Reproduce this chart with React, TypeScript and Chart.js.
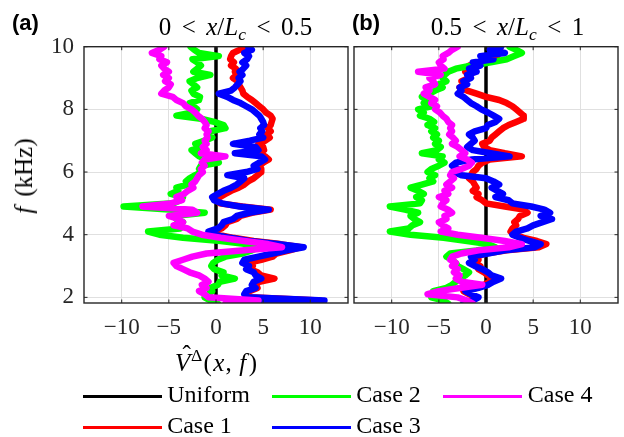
import React, { useEffect, useRef } from "react";
import { Chart, registerables } from "chart.js";

Chart.register(...registerables);

// frequency samples (kHz), top to bottom
const freqs = [
  10.0, 9.9, 9.8, 9.7, 9.6, 9.5, 9.4, 9.3, 9.2, 9.1,
  9.0, 8.9, 8.8, 8.7, 8.6, 8.5, 8.4, 8.3, 8.2, 8.1,
  8.0, 7.9, 7.8, 7.7, 7.6, 7.5, 7.4, 7.3, 7.2, 7.1,
  7.0, 6.9, 6.8, 6.7, 6.6, 6.5, 6.4, 6.3, 6.2, 6.1,
  6.0, 5.9, 5.8, 5.7, 5.6, 5.5, 5.4, 5.3, 5.2, 5.1,
  5.0, 4.9, 4.8, 4.7, 4.6, 4.5, 4.4, 4.3, 4.2, 4.1,
  4.0, 3.9, 3.8, 3.7, 3.6, 3.5, 3.4, 3.3, 3.2, 3.1,
  3.0, 2.9, 2.8, 2.7, 2.6, 2.5, 2.4, 2.3, 2.2, 2.1,
  2.0, 1.9, 1.8,
];

const uniformFreqs = [1.8, 10.0];
const uniformValues = [0, 0];

// ---- panel (a): 0 < x/Lc < 0.5 ----
const aCase1 = [
  3.2, 2.5, 1.8, 1.6, 1.5, 1.9, 1.6, 2.1, 2.0, 2.2,
  1.8, 2.3, 2.4, 2.6, 2.8, 2.9, 3.3, 3.8, 4.2, 4.6,
  5.0, 5.3, 5.8, 6.0, 5.9, 5.8, 5.5, 5.8, 5.4, 5.7,
  5.2, 4.5, 5.0, 5.1, 4.6, 5.2, 5.6, 5.0, 4.6, 4.8,
  4.8, 4.4, 4.0, 3.4, 3.0, 2.4, 1.6, 1.0, 0.4, 0.2,
  0.4, 2.8, 5.8, 3.8, 2.6, 2.2, 1.2, 1.0, 0.6, -0.4,
  0.2, 1.8, 4.0, 6.8, 9.0, 7.8, 6.4, 6.0, 4.8, 3.4,
  3.9, 3.6, 4.4, 4.8, 6.2, 4.6, 4.2, 4.4, 3.6, 3.3,
  3.7, 11.0, 3.8,
];
const aCase2 = [
  -2.7, -2.3, -1.8, 0.3, -2.5, -2.0, -1.6, -2.0, -2.4, -0.6,
  -2.0, -2.8, -2.4, -2.0, -2.6, -2.4, -1.7, -1.8, -2.8, -2.4,
  -2.0, -2.5, -4.2, -1.6, -0.2, 0.8, 1.0, -0.6, -0.9, -0.4,
  -1.2, -2.2, -1.2, -2.6, -2.2, -1.8, -1.0, 0.3, -1.6, -1.8,
  -1.5, -2.2, -2.8, -3.2, -3.0, -4.2, -4.0, -4.8, -3.5, -3.8,
  -4.5, -9.8, -5.0, -1.2, -4.5, -4.2, -3.5, -4.0, -3.8, -7.2,
  -6.0, -3.5, 0.5, 3.2, 4.5, 3.8, 2.8, 1.0, 0.2, -0.3,
  -0.5, -0.2, 0.8, 0.6, 2.0, 0.4, 0.2, -0.6, -0.4, -0.8,
  -1.2, -0.6, 0.2,
];
const aCase3 = [
  3.4, 3.8, 3.0, 3.5, 3.3, 2.8, 3.2, 2.9, 2.5, 2.8,
  2.4, 2.6, 2.3, 2.0, 1.6, 0.3, 1.2, 1.8, 2.6, 3.2,
  3.8, 4.2, 4.6, 4.8, 5.0, 5.1, 4.7, 4.9, 4.6, 5.0,
  3.6, 1.8, 4.2, 4.5, 2.0, 4.8, 5.2, 4.6, 4.0, 4.4,
  3.2, 1.2, 3.0, 2.6, 2.2, 1.6, 0.8, 0.2, -0.4, -0.2,
  0.6, 2.5, 5.6, 3.5, 2.2, 1.8, 0.8, 0.6, 0.2, -0.8,
  -0.2, 1.5, 3.5, 6.5, 9.3, 7.5, 6.0, 4.5, 3.0, 2.8,
  3.5, 3.2, 4.0, 4.2, 4.8, 4.0, 3.8, 4.2, 3.2, 3.0,
  3.4, 11.5, 3.6,
];
const aCase4 = [
  -5.5, -6.0, -6.8, -5.8, -6.0, -5.2, -5.8, -5.5, -5.0, -5.6,
  -5.0, -5.4, -4.8, -5.0, -5.5, -5.8, -4.6, -4.2, -3.5, -3.2,
  -2.6, -2.2, -1.9, -1.5, -1.2, -1.0, -1.2, -0.8, -1.0, -0.9,
  -1.2, -1.0, -1.4, -1.0, -1.6, 1.0, -1.2, -1.5, -1.2, -1.6,
  -1.4, -1.8, -2.0, -2.2, -2.6, -2.4, -3.0, -3.4, -4.2, -3.6,
  -4.8, -7.8, -2.5, -2.0, -5.0, -4.0, -3.5, -4.5, -3.0, -2.5,
  -1.5, 0.5, 3.0, 5.5, 7.0, 3.0, -1.0, -2.5, -3.5, -4.5,
  -4.2, -3.5, -2.8, -1.8, -1.2, -0.8, -1.5, -1.0, -1.8, -1.2,
  -0.8, 4.5, 1.0,
];

// ---- panel (b): 0.5 < x/Lc < 1 ----
const bCase1 = [
  1.0, 1.5, 0.6, 1.2, 0.0, -0.7, -1.8, -1.4, -2.2, -1.6,
  -1.8, -2.6, -2.2, -2.8, -2.0, -1.0, 0.0, 1.4, 2.2, 2.8,
  3.2, 3.6, 4.0, 4.0, 3.2, 2.4, 1.8, 1.4, 1.0, 0.6,
  0.4, -0.4, -0.2, 0.4, 2.0, 3.8, 0.4, -0.4, -0.8, -1.0,
  -1.4, -1.6, -1.8, -1.4, -1.2, -1.0, -1.4, -0.8, -1.0, -0.4,
  0.0, 2.0, 4.0, 4.4, 3.6, 3.4, 3.0, 3.2, 2.8, 2.6,
  3.0, 4.0, 5.4, 6.4, 5.6, 2.2, 0.0, -1.0, -0.8, -1.2,
  -0.6, -0.8, -0.2, 0.2, 0.8, 0.4, -0.2, -1.0, -2.4, -1.8,
  -1.0, -1.6, -2.4,
];
const bCase2 = [
  2.5, 3.2, 3.8, 3.0, 2.2, 0.5, -1.5, -3.2, -4.0, -4.4,
  -4.6, -4.2, -5.0, -4.6, -5.4, -6.0, -6.8, -6.2, -6.6, -5.8,
  -7.2, -6.6, -7.0, -6.0, -5.5, -6.2, -5.4, -5.8, -5.2, -5.6,
  -5.0, -5.4, -4.8, -5.2, -6.8, -4.6, -5.0, -4.4, -5.0, -5.8,
  -6.2, -5.4, -6.0, -5.6, -6.8, -8.0, -7.2, -6.6, -7.4, -6.8,
  -7.0, -10.2, -8.6, -7.2, -8.0, -7.6, -7.0, -7.8, -8.2, -10.2,
  -8.0, -4.5, -2.0, 0.2, 1.0, -1.0, -3.8, -4.2, -3.6, -3.2,
  -3.0, -2.4, -1.8, -2.2, -2.8, -3.2, -3.6, -4.2, -5.6, -5.2,
  -5.8, -4.5, -4.0,
];
const bCase3 = [
  1.6, 0.4, 2.0, -0.6, 0.8, -1.4, -0.6, -1.8, -1.0, -2.0,
  -1.6, -2.4, -2.0, -2.8, -2.6, -3.0, -2.4, -2.0, -1.6, -1.0,
  -0.5, 0.2, 0.8, 1.4, 1.0, 0.2, 0.0, -1.2, -1.8, -1.4,
  -1.2, -1.6, -2.0, -1.4, 0.5, 2.5, -1.5, -3.2, -3.6, -3.0,
  -3.4, -2.6, 0.0, 0.8, 1.4, 0.6, 1.2, 1.8, 1.0, 2.4,
  2.8, 4.8, 6.2, 6.8, 5.8, 7.0, 6.0, 5.0, 4.4, 3.2,
  2.8, 3.6, 4.6, 5.8, 5.2, 2.0, 0.2, -1.6, -1.2, -1.8,
  -1.2, -0.4, 0.2, 0.6, 1.6, 0.8, 0.2, -0.8, -2.2, -1.6,
  -0.8, -1.4, -2.4,
];
const bCase4 = [
  -3.0, -3.6, -4.0, -4.6, -4.5, -5.0, -4.8, -4.4, -7.2, -4.8,
  -6.0, -5.6, -5.4, -6.4, -6.0, -6.6, -6.0, -5.4, -5.8, -5.2,
  -5.4, -4.9, -4.6, -4.2, -4.0, -3.6, -3.8, -3.6, -3.9, -3.5,
  -3.2, -3.6, -3.0, -2.6, -2.2, -2.8, -2.0, -1.5, -1.8, -2.6,
  -3.6, -3.8, -3.4, -3.8, -4.2, -3.6, -4.4, -4.0, -5.0, -4.2,
  -4.6, -4.8, -4.0, -3.6, -4.4, -4.2, -5.0, -4.6, -4.0, -4.8,
  -3.0, -0.5, 2.0, 3.8, 2.4, -0.8, -2.6, -3.6, -3.8, -3.2,
  -3.6, -3.0, -3.4, -2.8, -3.2, -2.6, -0.4, -2.8, -5.0, -6.2,
  -3.0, -2.0, -1.4,
];

const xTickValues = [-10, -5, 0, 5, 10];
const yTickValues = [2, 4, 6, 8, 10];
const xRange = [-14, 14];
const yRange = [1.82, 10];

const seriesNames = ["Uniform", "Case 1", "Case 2", "Case 3", "Case 4"];
const seriesColors = ["#000000", "#ff0000", "#00ff00", "#0000ff", "#ff00ff"];

const SERIF = "'Liberation Serif', 'Times New Roman', serif";
const SANS = "'Liberation Sans', Arial, sans-serif";
const AXIS_COLOR = "#262626";

const fmtTick = (v: number) => (v < 0 ? "\u2212" + Math.abs(v) : String(v));

const framePlugin = {
  id: "matlabFrame",
  afterDatasetsDraw(chart: any) {
    const { ctx, chartArea: a } = chart;
    const xs = chart.scales.x;
    const ys = chart.scales.y;
    const L = 3.5;
    ctx.save();
    ctx.strokeStyle = AXIS_COLOR;
    ctx.lineWidth = 1;
    ctx.beginPath();
    for (const t of xs.ticks) {
      const p = xs.getPixelForValue(t.value);
      ctx.moveTo(p, a.bottom);
      ctx.lineTo(p, a.bottom - L);
      ctx.moveTo(p, a.top);
      ctx.lineTo(p, a.top + L);
    }
    for (const t of ys.ticks) {
      const p = ys.getPixelForValue(t.value);
      ctx.moveTo(a.left, p);
      ctx.lineTo(a.left + L, p);
      ctx.moveTo(a.right, p);
      ctx.lineTo(a.right - L, p);
    }
    ctx.stroke();
    ctx.lineWidth = 1.4;
    ctx.strokeRect(a.left, a.top, a.right - a.left, a.bottom - a.top);
    ctx.restore();
  },
};

function buildDatasets(cases: number[][]) {
  const common = {
    showLine: true,
    pointRadius: 0,
    pointHoverRadius: 0,
    fill: false,
    tension: 0,
    borderJoinStyle: "round",
    borderCapStyle: "round",
    clip: 0,
  };
  const ds: any[] = [
    {
      ...common,
      label: seriesNames[0],
      data: uniformFreqs.map((f, i) => ({ x: uniformValues[i], y: f })),
      borderColor: seriesColors[0],
      borderWidth: 3.5,
      order: 5,
    },
  ];
  cases.forEach((vals, k) => {
    ds.push({
      ...common,
      label: seriesNames[k + 1],
      data: freqs.map((f, i) => ({ x: vals[i], y: f })),
      borderColor: seriesColors[k + 1],
      borderWidth: 6.5,
      order: 4 - k,
    });
  });
  return ds;
}

type PanelProps = {
  left: number;
  width: number;
  height: number;
  padTop: number;
  padRight: number;
  yAxisWidth: number;
  xAxisHeight: number;
  showYLabels: boolean;
  cases: number[][];
};

function Panel(p: PanelProps) {
  const ref = useRef<HTMLCanvasElement>(null);
  useEffect(() => {
    const tickFont = { family: SERIF, size: 23 };
    const chart = new Chart(ref.current as HTMLCanvasElement, {
      type: "scatter",
      data: { datasets: buildDatasets(p.cases) },
      options: {
        animation: false,
        responsive: false,
        devicePixelRatio: 1,
        events: [],
        layout: { padding: { left: 0, right: p.padRight, top: p.padTop, bottom: 0 } },
        plugins: { legend: { display: false }, tooltip: { enabled: false }, title: { display: false } },
        scales: {
          x: {
            type: "linear",
            min: xRange[0],
            max: xRange[1],
            afterBuildTicks: (s: any) => {
              s.ticks = xTickValues.map((v) => ({ value: v }));
            },
            afterFit: (s: any) => {
              s.height = p.xAxisHeight;
            },
            grid: { color: "#e0e0e0", lineWidth: 1, drawTicks: false },
            border: { display: false },
            ticks: {
              font: tickFont,
              color: AXIS_COLOR,
              padding: 11,
              maxRotation: 0,
              autoSkip: false,
              callback: (v: any) => fmtTick(Number(v)),
            },
          },
          y: {
            type: "linear",
            min: yRange[0],
            max: yRange[1],
            afterBuildTicks: (s: any) => {
              s.ticks = yTickValues.map((v) => ({ value: v }));
            },
            afterFit: (s: any) => {
              s.width = p.yAxisWidth;
            },
            grid: { color: "#e0e0e0", lineWidth: 1, drawTicks: false },
            border: { display: false },
            ticks: {
              display: p.showYLabels,
              font: tickFont,
              color: AXIS_COLOR,
              padding: 10,
              autoSkip: false,
              callback: (v: any) => fmtTick(Number(v)),
            },
          },
        },
      } as any,
      plugins: [framePlugin],
    } as any);
    return () => chart.destroy();
  }, []);
  return (
    <canvas
      ref={ref}
      width={p.width}
      height={p.height}
      style={{ position: "absolute", left: p.left, top: 0, width: p.width, height: p.height }}
    />
  );
}

function Label(props: {
  x: number;
  baseline: number;
  size: number;
  family?: string;
  align?: "left" | "center";
  bold?: boolean;
  children: React.ReactNode;
}) {
  const family = props.family || SERIF;
  const asc = family === SANS ? 0.905 : 0.891;
  const desc = family === SANS ? 0.212 : 0.216;
  return (
    <div
      style={{
        position: "absolute",
        left: props.x,
        top: props.baseline - asc * props.size,
        fontSize: props.size,
        fontFamily: family,
        fontWeight: props.bold ? 700 : 400,
        lineHeight: `${(asc + desc) * props.size}px`,
        whiteSpace: "nowrap",
        color: "#000",
        transform: props.align === "center" ? "translateX(-50%)" : undefined,
      }}
    >
      {props.children}
    </div>
  );
}

const rel = { margin: "0 0.42em" };
const sub = { fontSize: "0.7em", position: "relative" as const, top: "0.28em", lineHeight: 0 };

function RangeTitle({ lo, hi }: { lo: string; hi: string }) {
  return (
    <>
      <span>{lo}</span>
      <span style={rel}>&lt;</span>
      <i>x</i>
      <span>/</span>
      <i>L</i>
      <i style={sub}>c</i>
      <span style={rel}>&lt;</span>
      <span>{hi}</span>
    </>
  );
}

// legend layout: column-major with 2 rows
const legendCols = [82.7, 271.7, 443.3];
const legendRows = [396.8, 427.3];

export default function App() {
  const panelH = 345;
  return (
    <div
      style={{
        position: "fixed",
        left: 0,
        top: 0,
        width: 624,
        height: 437,
        background: "#ffffff",
        overflow: "hidden",
      }}
    >
      <Panel
        left={0}
        width={352}
        height={panelH}
        padTop={46.7}
        padRight={4}
        yAxisWidth={84}
        xAxisHeight={panelH - 303}
        showYLabels={true}
        cases={[aCase1, aCase2, aCase3, aCase4]}
      />
      <Panel
        left={350}
        width={274}
        height={panelH}
        padTop={46.7}
        padRight={6}
        yAxisWidth={4}
        xAxisHeight={panelH - 303}
        showYLabels={false}
        cases={[bCase1, bCase2, bCase3, bCase4]}
      />

      <Label x={12} baseline={31} size={22} family={SANS} bold>
        (a)
      </Label>
      <Label x={352} baseline={31} size={22} family={SANS} bold>
        (b)
      </Label>
      <Label x={235.5} baseline={35} size={25} align="center">
        <RangeTitle lo="0" hi="0.5" />
      </Label>
      <Label x={507.5} baseline={35} size={25} align="center">
        <RangeTitle lo="0.5" hi="1" />
      </Label>

      {/* y label */}
      <div
        style={{
          position: "absolute",
          left: 23.5,
          top: 175.5,
          transform: "translate(-50%, -50%) rotate(-90deg)",
          fontFamily: SERIF,
          fontSize: 25,
          lineHeight: "28px",
          whiteSpace: "nowrap",
          color: "#000",
        }}
      >
        <i>f</i>
        <span style={{ marginLeft: "0.4em" }}>(kHz)</span>
      </div>

      {/* x label */}
      <Label x={216} baseline={371} size={25} align="center">
        <span style={{ position: "relative" }}>
          <i>V</i>
          <span
            style={{ position: "absolute", left: "0.3em", top: "-0.3em", lineHeight: "1.1em", fontStyle: "normal" }}
          >
            ˆ
          </span>
        </span>
        <span style={{ fontSize: "0.7em", position: "relative", top: "-0.55em", lineHeight: 0, marginLeft: "0.05em" }}>
          Δ
        </span>
        <span style={{ marginLeft: "0.05em" }}>(</span>
        <i style={{ margin: "0 0.05em" }}>x</i>
        <span>,</span>
        <i style={{ marginLeft: "0.3em", marginRight: "0.1em" }}>f</i>
        <span>)</span>
      </Label>

      {/* legend */}
      {seriesNames.map((name, i) => {
        const col = Math.floor(i / 2);
        const row = i % 2;
        const x0 = legendCols[col];
        const y0 = legendRows[row];
        return (
          <React.Fragment key={name}>
            <div
              style={{
                position: "absolute",
                left: x0,
                top: y0 - 1.6,
                width: 79,
                height: 3.3,
                background: seriesColors[i],
              }}
            />
            <Label x={x0 + 84.5} baseline={y0 + 6} size={24}>
              {name}
            </Label>
          </React.Fragment>
        );
      })}
    </div>
  );
}
